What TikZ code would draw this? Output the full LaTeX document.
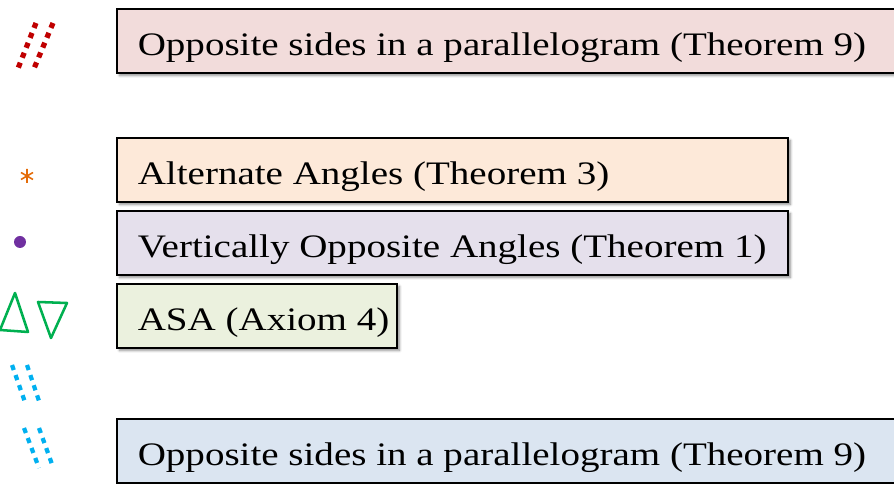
\documentclass[tikz,border=0pt]{standalone}
\usepackage{fontspec}
\setmainfont{Liberation Serif}[FakeStretch=1.19]
\usepackage{tikz}
\usetikzlibrary{shadows, shadows.blur}

\definecolor{pinkfill}{HTML}{F2DCDB}
\definecolor{peachfill}{HTML}{FDE9D9}
\definecolor{lilacfill}{HTML}{E5E0EC}
\definecolor{olivefill}{HTML}{EBF1DE}
\definecolor{bluefill}{HTML}{DBE5F1}
\definecolor{markred}{HTML}{C00000}
\definecolor{markorange}{HTML}{E46C0A}
\definecolor{markpurple}{HTML}{7030A0}
\definecolor{markgreen}{HTML}{00B050}
\definecolor{markblue}{HTML}{00B0F0}

\newcommand{\reasontext}[2]{\makebox[#1][l]{#2}}

\begin{document}
\begin{tikzpicture}[
        x=0.75pt, y=-0.75pt,
        reason/.style={draw=black, line width=1.2pt, anchor=north west, minimum height=48pt, inner xsep=15.75pt,
            text height=24pt, text depth=1.5pt,
            font=\fontsize{24.6pt}{30pt}\selectfont,
            blur shadow={shadow xshift=2pt, shadow yshift=-2pt, shadow blur steps=6, shadow opacity=45}},
        ticks/.style={line width=3.9pt, dash pattern=on 4pt off 4pt},
        tri/.style={draw=markgreen, line width=1.9pt, line join=round}
    ]
        \useasboundingbox (0,0) rectangle (894,484);

        \node[reason, fill=pinkfill] (sidesA) at (116,8) {\reasontext{556.5pt}{Opposite sides in a parallelogram (Theorem 9)}};
        \node[reason, fill=peachfill] (altAngles) at (116,137) {\reasontext{471.75pt}{Alternate Angles (Theorem 3)}};
        \node[reason, fill=lilacfill] (vertAngles) at (116,210) {\reasontext{471.75pt}{Vertically Opposite Angles (Theorem 1)}};
        \node[reason, fill=olivefill] (asa) at (116,283) {\reasontext{178.5pt}{ASA (Axiom 4)}};
        \node[reason, fill=bluefill] (sidesB) at (116,418) {\reasontext{556.5pt}{Opposite sides in a parallelogram (Theorem 9)}};

        % marks on the left
        \draw[ticks, markred] (36,23) -- (17,71);
        \draw[ticks, markred] (53,23) -- (33,71);

        \draw[markorange, line width=1.2pt] (27,169) -- (27,183) (21,172.5) -- (33,179.5) (21,179.5) -- (33,172.5);
        \fill[markpurple] (20,242) circle (6);

        \draw[tri] (0,330) -- (15,293) -- (28,332) -- cycle;
        \draw[tri] (38,302) -- (67,303) -- (51,338) -- cycle;

        \draw[ticks, markblue, line width=3.2pt] (12,365) -- (26,405);
        \draw[ticks, markblue, line width=3.2pt] (27,365) -- (40,404);
        \draw[ticks, markblue, line width=3.2pt] (24,428) -- (39,468);
        \draw[ticks, markblue, line width=3.2pt] (39,428) -- (53,467);
    \end{tikzpicture}
\end{document}
